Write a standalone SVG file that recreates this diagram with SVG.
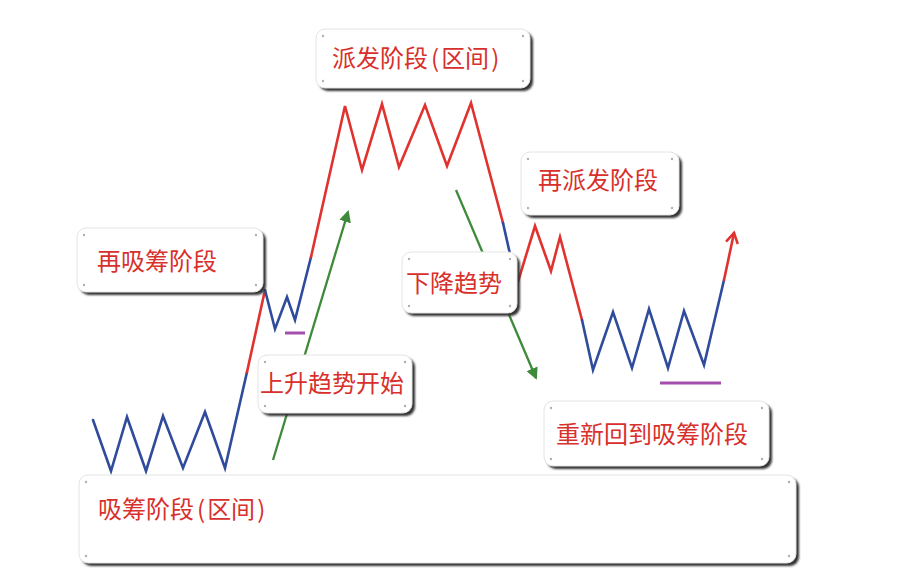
<svg xmlns="http://www.w3.org/2000/svg" width="904" height="580" viewBox="0 0 904 580">
<defs>
<style>
.box{fill:#ffffff;stroke:#e4e4e4;stroke-width:1}
.sh{fill:#333333;filter:url(#blur)}
.dot{fill:#b0b0b0}
.t{font-family:"Noto Sans CJK SC","Noto Sans",sans-serif;font-size:24px;fill:#d8302c}
.r{fill:none;stroke:#e0322e;stroke-width:2.6;stroke-linejoin:miter;stroke-linecap:round}
.b{fill:none;stroke:#2f4b9c;stroke-width:2.6;stroke-linejoin:miter;stroke-linecap:round}
.g{fill:none;stroke:#3f8a3a;stroke-width:2.3}
.p{fill:none;stroke:#a44fae;stroke-width:3}
</style>
<filter id="blur" x="-10%" y="-10%" width="120%" height="130%"><feGaussianBlur stdDeviation="1.2"/></filter>
<marker id="ga" markerWidth="12" markerHeight="12" refX="10" refY="6" orient="auto" markerUnits="userSpaceOnUse">
<path d="M0,0 L12,6 L0,12 Z" fill="#3f8a3a"/>
</marker>
<marker id="ra" markerWidth="14" markerHeight="14" refX="11" refY="7" orient="auto" markerUnits="userSpaceOnUse">
<path d="M1,1 L11,7 L1,13" fill="none" stroke="#e0322e" stroke-width="2.5"/>
</marker>
</defs>
<rect width="904" height="580" fill="#ffffff"/>

<g id="connectors">
<polyline class="b" points="93,420 111,471 127,417 146,471 163,416 183,468 205,412 225,468 247,372"/>
<polyline class="r" points="247,372 265,290"/>
<polyline class="b" points="265,290 275,329 287,297 295,320 311,257"/>
<polyline class="r" points="311,257 345,106 362,170 382,104 399,167 425,105 447,166 471,103 503,223"/>
<polyline class="b" points="503,223 517,285"/>
<polyline class="r" points="517,285 535,226 551,271 560,237 582,320"/>
<polyline class="b" points="582,320 593,370 613,312 632,368 649,309 668,368 684,311 704,365 724,280"/>
<line class="r" x1="724" y1="280" x2="734" y2="233" marker-end="url(#ra)"/>
<line class="p" x1="285" y1="333" x2="305" y2="333"/>
<line class="p" x1="660" y1="383" x2="721" y2="383"/>
<line class="g" x1="273" y1="460" x2="348" y2="212" marker-end="url(#ga)"/>
<line class="g" x1="456" y1="190" x2="536" y2="378" marker-end="url(#ga)"/>
</g>

<g id="node-accumulation">
<rect class="sh" x="82" y="478" width="717" height="88" rx="9"/>
<rect class="box" x="79" y="475" width="717" height="88" rx="9"/>
<circle class="dot" cx="86" cy="482" r="1.2"/><circle class="dot" cx="789" cy="482" r="1.2"/>
<circle class="dot" cx="86" cy="556" r="1.2"/><circle class="dot" cx="789" cy="556" r="1.2"/>
<text class="t" x="98" y="518">吸筹阶段<tspan dx="3">(</tspan><tspan dx="2">区间</tspan><tspan dx="2">)</tspan></text>
</g>

<g id="node-reaccumulation">
<rect class="sh" x="80" y="231" width="186" height="64" rx="9"/>
<rect class="box" x="77" y="228" width="186" height="64" rx="9"/>
<circle class="dot" cx="84" cy="235" r="1.2"/><circle class="dot" cx="256" cy="235" r="1.2"/>
<circle class="dot" cx="84" cy="285" r="1.2"/><circle class="dot" cx="256" cy="285" r="1.2"/>
<text class="t" x="97" y="270">再吸筹阶段</text>
</g>

<g id="node-distribution">
<rect class="sh" x="319" y="32" width="214" height="59" rx="9"/>
<rect class="box" x="316" y="29" width="214" height="59" rx="9"/>
<circle class="dot" cx="323" cy="36" r="1.2"/><circle class="dot" cx="523" cy="36" r="1.2"/>
<circle class="dot" cx="323" cy="81" r="1.2"/><circle class="dot" cx="523" cy="81" r="1.2"/>
<text class="t" x="332" y="67">派发阶段<tspan dx="3">(</tspan><tspan dx="2">区间</tspan><tspan dx="2">)</tspan></text>
</g>

<g id="node-redistribution">
<rect class="sh" x="524" y="155" width="158" height="63" rx="9"/>
<rect class="box" x="521" y="152" width="158" height="63" rx="9"/>
<circle class="dot" cx="528" cy="159" r="1.2"/><circle class="dot" cx="672" cy="159" r="1.2"/>
<circle class="dot" cx="528" cy="208" r="1.2"/><circle class="dot" cx="672" cy="208" r="1.2"/>
<text class="t" x="538" y="189">再派发阶段</text>
</g>

<g id="node-downtrend">
<rect class="sh" x="405" y="255" width="115" height="61" rx="9"/>
<rect class="box" x="402" y="252" width="115" height="61" rx="9"/>
<circle class="dot" cx="409" cy="259" r="1.2"/><circle class="dot" cx="510" cy="259" r="1.2"/>
<circle class="dot" cx="409" cy="306" r="1.2"/><circle class="dot" cx="510" cy="306" r="1.2"/>
<text class="t" x="406" y="292">下降趋势</text>
</g>

<g id="node-uptrend">
<rect class="sh" x="261" y="358" width="154" height="58" rx="9"/>
<rect class="box" x="258" y="355" width="154" height="58" rx="9"/>
<circle class="dot" cx="265" cy="362" r="1.2"/><circle class="dot" cx="405" cy="362" r="1.2"/>
<circle class="dot" cx="265" cy="406" r="1.2"/><circle class="dot" cx="405" cy="406" r="1.2"/>
<text class="t" x="260" y="392">上升趋势开始</text>
</g>

<g id="node-back-to-accumulation">
<rect class="sh" x="547" y="404" width="225" height="65" rx="9"/>
<rect class="box" x="544" y="401" width="225" height="65" rx="9"/>
<circle class="dot" cx="551" cy="408" r="1.2"/><circle class="dot" cx="762" cy="408" r="1.2"/>
<circle class="dot" cx="551" cy="459" r="1.2"/><circle class="dot" cx="762" cy="459" r="1.2"/>
<text class="t" x="556" y="443">重新回到吸筹阶段</text>
</g>
</svg>
